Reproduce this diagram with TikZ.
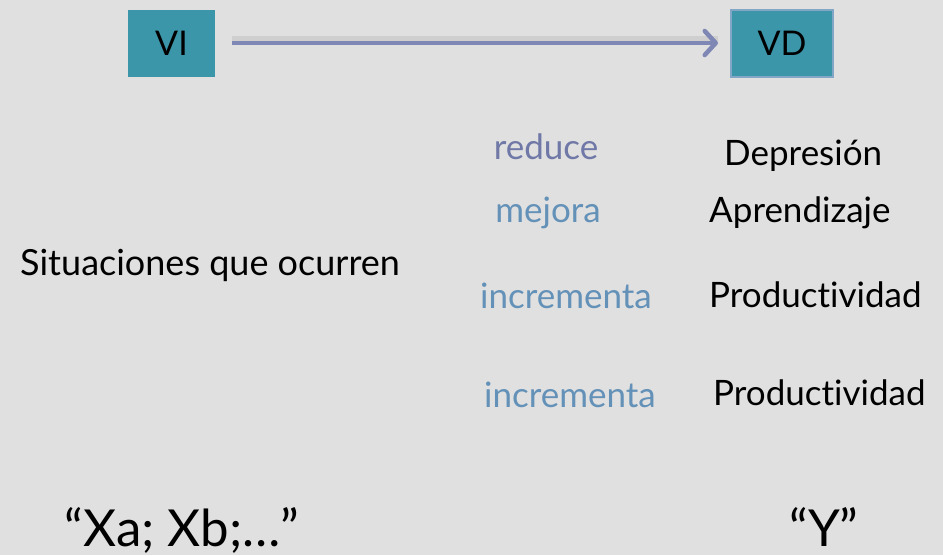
\documentclass[tikz,border=0pt]{standalone}
\usepackage{fontspec}
\setmainfont{Lato}[Ligatures=NoCommon]
\usetikzlibrary{arrows.meta}
\definecolor{bg}{HTML}{E0E0E0}
\definecolor{boxfill}{HTML}{3B96AA}
\definecolor{arrowcol}{HTML}{7F88B4}
\definecolor{verbA}{HTML}{6F78A6}
\definecolor{verbB}{HTML}{6391B8}
\tikzset{
  varbox/.style={fill=boxfill, minimum height=67pt, inner sep=0pt, font=\fontsize{34}{40}\selectfont, text=black},
  verb/.style={inner sep=0pt, font=\fontsize{35}{41}\selectfont},
  result/.style={inner sep=0pt, font=\fontsize{35}{41}\selectfont, text=black, anchor=west},
  big/.style={inner sep=0pt, font=\fontsize{51}{57}\selectfont, text=black, anchor=base}
}
\begin{document}
\begin{tikzpicture}[x=1pt,y=-1pt]
\fill[bg] (0,0) rectangle (943,555);
\useasboundingbox (0,0) rectangle (943,555);
\node[varbox, minimum width=87pt] (vi) at (171.5,43.5) {VI};
\node[varbox, minimum width=102pt, draw=verbB!80!white, line width=2pt] (vd) at (782,43) {VD};
\coordinate (as) at (232,43);
\coordinate (ae) at (718,43);
\draw[black!25, line width=5pt, opacity=0.5] ([yshift=5pt]as) -- ([yshift=5pt]ae);
\draw[arrowcol, line width=4.5pt, -{Straight Barb[length=11pt,width=24pt,round]}] (as) -- (ae);
\node[verb, text=verbA] (v1) at (546,147) {reduce};
\node[verb, text=verbB] (v2) at (548,213) {mejora};
\node[verb, text=verbB] (v3) at (566,296) {incrementa};
\node[verb, text=verbB] (v4) at (570,395) {incrementa};
\node[result] (r1) at (724,156) {Depresión};
\node[result] (r2) at (709,213) {Aprendizaje};
\node[result] (r3) at (709,295) {Productividad};
\node[result] (r4) at (713,393) {Productividad};
\node[inner sep=0pt, font=\fontsize{36}{42}\selectfont, text=black, anchor=west] (sit) at (20,265) {Situaciones que ocurren};
\node[big] (x) at (182,546) {“Xa; Xb;…”};
\node[big] (y) at (824,546) {“Y”};
\end{tikzpicture}
\end{document}
